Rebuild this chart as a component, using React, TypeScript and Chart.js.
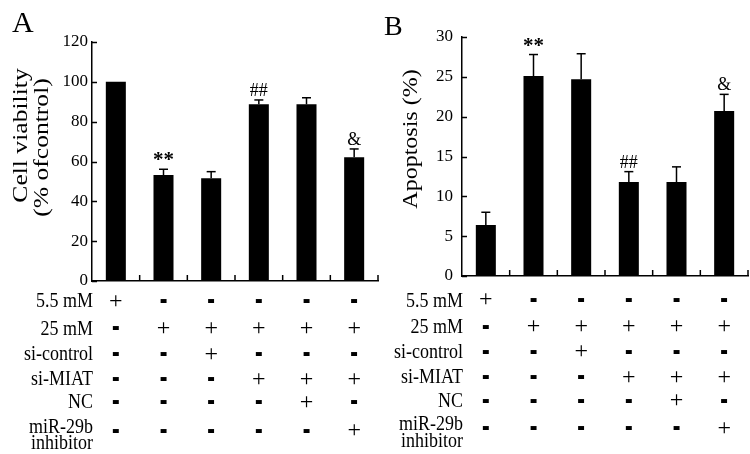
import React, { useEffect, useRef } from "react";
import { Chart, registerables } from "chart.js";

Chart.register(...registerables);

// ---------- data ----------
const groups = ["G1", "G2", "G3", "G4", "G5", "G6"];
const viability = [100, 53.2, 51.6, 88.7, 88.7, 62.1];
const viabilityErr = [0, 2.9, 3.3, 2.2, 3.3, 4.2];
const apoptosis = [6.4, 25.1, 24.7, 11.8, 11.8, 20.7];
const apoptosisErr = [1.6, 2.7, 3.2, 1.3, 1.9, 2.1];
const viabilityMarks = ["", "**", "", "##", "", "&"];
const apoptosisMarks = ["", "**", "", "##", "", "&"];
const viabilityTitle = ["Cell viability", "(% ofcontrol)"];
const apoptosisTitle = ["Apoptosis (%)"];
const viabilityTicks = { min: 0, max: 120, step: 20 };
const apoptosisTicks = { min: 0, max: 30, step: 5 };
const rowLabels = [["5.5 mM"], ["25 mM"], ["si-control"], ["si-MIAT"], ["NC"], ["miR-29b", "inhibitor"]];
const rowSigns = [
  ["+", "-", "-", "-", "-", "-"],
  ["-", "+", "+", "+", "+", "+"],
  ["-", "-", "+", "-", "-", "-"],
  ["-", "-", "-", "+", "+", "+"],
  ["-", "-", "-", "-", "+", "-"],
  ["-", "-", "-", "-", "-", "+"],
];

const SERIF = '"Liberation Serif", "Times New Roman", serif';

type TextOpts = { align?: CanvasTextAlign; sx?: number; sy?: number; rot?: number; bold?: boolean; baseline?: CanvasTextBaseline };

function drawText(ctx: CanvasRenderingContext2D, s: string, x: number, y: number, size: number, o: TextOpts = {}) {
  ctx.save();
  ctx.translate(x, y);
  if (o.rot) ctx.rotate(o.rot);
  ctx.scale(o.sx ?? 1, o.sy ?? 1);
  ctx.font = `${o.bold ? "bold " : ""}${size}px ${SERIF}`;
  ctx.textAlign = o.align ?? "left";
  ctx.textBaseline = o.baseline ?? "alphabetic";
  ctx.fillStyle = "#000";
  ctx.fillText(s, 0, 0);
  ctx.restore();
}

type Layout = {
  padLeft: number; padRight: number; padTop: number; yWidth: number; xHeight: number; tickPad: number;
  letterX: number; letterY: number; letterSize: number;
  titleX: number[]; titleY: number[]; titleStretch: number;
  labelBase: number[][]; signY: number[];
};

const layoutA: Layout = {
  padLeft: 0, padRight: 372, padTop: 42, yWidth: 92, xHeight: 173, tickPad: 4,
  letterX: 12, letterY: 32, letterSize: 30,
  titleX: [27, 48], titleY: [135.5, 147.5], titleStretch: 1.28,
  labelBase: [[307], [335], [360], [385], [408], [432.5, 449]],
  signY: [301.5, 328.5, 354.5, 379.5, 402.5, 431],
};
const layoutB: Layout = {
  padLeft: 375, padRight: 2, padTop: 37, yWidth: 87, xHeight: 178, tickPad: 9,
  letterX: 384, letterY: 35, letterSize: 28,
  titleX: [417], titleY: [139], titleStretch: 1.2,
  labelBase: [[306.5], [333], [357.5], [383], [407], [430, 446.5]],
  signY: [300, 327, 352, 377.5, 401, 428.5],
};

function line(ctx: CanvasRenderingContext2D, x1: number, y1: number, x2: number, y2: number) {
  ctx.beginPath();
  ctx.moveTo(x1, y1);
  ctx.lineTo(x2, y2);
  ctx.stroke();
}

function buildChart(canvas: HTMLCanvasElement, letter: string, values: number[], errs: number[], marks: string[], title: string[], tk: { min: number; max: number; step: number }, L: Layout) {
  const decor = {
    id: "decor",
    afterDatasetsDraw(chart: any) {
      const ctx: CanvasRenderingContext2D = chart.ctx;
      const xs = chart.scales.x;
      const ys = chart.scales.y;
      const area = chart.chartArea;
      const n = groups.length;
      ctx.save();
      ctx.strokeStyle = "#000";
      ctx.lineWidth = 1.5;
      // inward y ticks
      ys.ticks.forEach((t: any) => {
        const py = Math.round(ys.getPixelForValue(t.value)) + 0.5;
        line(ctx, area.left, py, area.left + 5, py);
      });
      // inward x ticks at category boundaries
      for (let i = 0; i < n; i++) {
        const bx = i < n - 1 ? (xs.getPixelForValue(i) + xs.getPixelForValue(i + 1)) / 2 : area.right;
        line(ctx, bx, area.bottom, bx, area.bottom - 6);
      }
      // error bars + marks
      for (let i = 0; i < n; i++) {
        const cx = xs.getPixelForValue(i);
        const yv = ys.getPixelForValue(values[i]);
        const ye = ys.getPixelForValue(values[i] + errs[i]);
        if (errs[i] > 0) {
          line(ctx, cx, yv, cx, ye);
          line(ctx, cx - 4.5, ye, cx + 4.5, ye);
        }
        const m = marks[i];
        if (m) {
          if (m === "**") drawText(ctx, m, cx, ye - 3, 21, { align: "center", bold: true, baseline: "alphabetic" });
          else drawText(ctx, m, cx, ye - 4, 18, { align: "center", sy: 1.05 });
        }
      }
      // panel letter
      drawText(ctx, letter, L.letterX, L.letterY, L.letterSize);
      // y title
      title.forEach((t, k) => {
        drawText(ctx, t, L.titleX[k], L.titleY[k], 20, { align: "center", rot: -Math.PI / 2, sx: L.titleStretch });
      });
      // condition table
      rowLabels.forEach((lines, r) => {
        lines.forEach((t, k) => {
          drawText(ctx, t, area.left + 1, L.labelBase[r][k], 18, { align: "right", sy: 1.12 });
        });
        rowSigns[r].forEach((s, i) => {
          const cx = xs.getPixelForValue(i);
          const cy = L.signY[r];
          if (s === "+") {
            drawText(ctx, "+", cx, cy + 6, 24, { align: "center" });
          } else {
            ctx.save();
            ctx.translate(cx, cy);
            ctx.scale(1.15, 2.3);
            ctx.font = `bold 20px ${SERIF}`;
            ctx.textAlign = "center";
            ctx.textBaseline = "alphabetic";
            ctx.fillStyle = "#000";
            ctx.fillText("-", 0, 0.23 * 20);
            ctx.restore();
          }
        });
      });
      ctx.restore();
    },
  };

  return new Chart(canvas, {
    type: "bar",
    data: {
      labels: groups,
      datasets: [
        {
          data: values,
          backgroundColor: "#000",
          borderWidth: 0,
          barPercentage: 0.42,
          categoryPercentage: 1,
        },
      ],
    },
    options: {
      responsive: false,
      animation: false,
      events: [],
      layout: { padding: { left: L.padLeft, right: L.padRight, top: L.padTop, bottom: 0 } },
      plugins: { legend: { display: false }, tooltip: { enabled: false }, title: { display: false } },
      scales: {
        x: {
          type: "category",
          offset: true,
          grid: { display: false, drawTicks: false },
          border: { display: true, color: "#000", width: 1.5 },
          ticks: { display: false },
          afterFit: (s: any) => {
            s.height = L.xHeight;
          },
        },
        y: {
          min: tk.min,
          max: tk.max,
          grid: { display: false, drawTicks: false },
          border: { display: true, color: "#000", width: 1.5 },
          ticks: {
            stepSize: tk.step,
            color: "#000",
            padding: L.tickPad,
            font: { family: SERIF, size: 17 },
          },
          afterFit: (s: any) => {
            s.width = L.yWidth;
          },
        },
      },
    } as any,
    plugins: [decor],
  });
}

export default function App() {
  const refA = useRef<HTMLCanvasElement>(null);
  const refB = useRef<HTMLCanvasElement>(null);
  useEffect(() => {
    const a = buildChart(refA.current!, "A", viability, viabilityErr, viabilityMarks, viabilityTitle, viabilityTicks, layoutA);
    const b = buildChart(refB.current!, "B", apoptosis, apoptosisErr, apoptosisMarks, apoptosisTitle, apoptosisTicks, layoutB);
    return () => {
      a.destroy();
      b.destroy();
    };
  }, []);
  const cstyle: React.CSSProperties = { position: "absolute", left: 0, top: 0, width: 750, height: 454 };
  return (
    <div style={{ position: "absolute", left: 0, top: 0, width: 750, height: 454, background: "#fff" }}>
      <canvas ref={refA} width={750} height={454} style={cstyle} />
      <canvas ref={refB} width={750} height={454} style={cstyle} />
    </div>
  );
}
